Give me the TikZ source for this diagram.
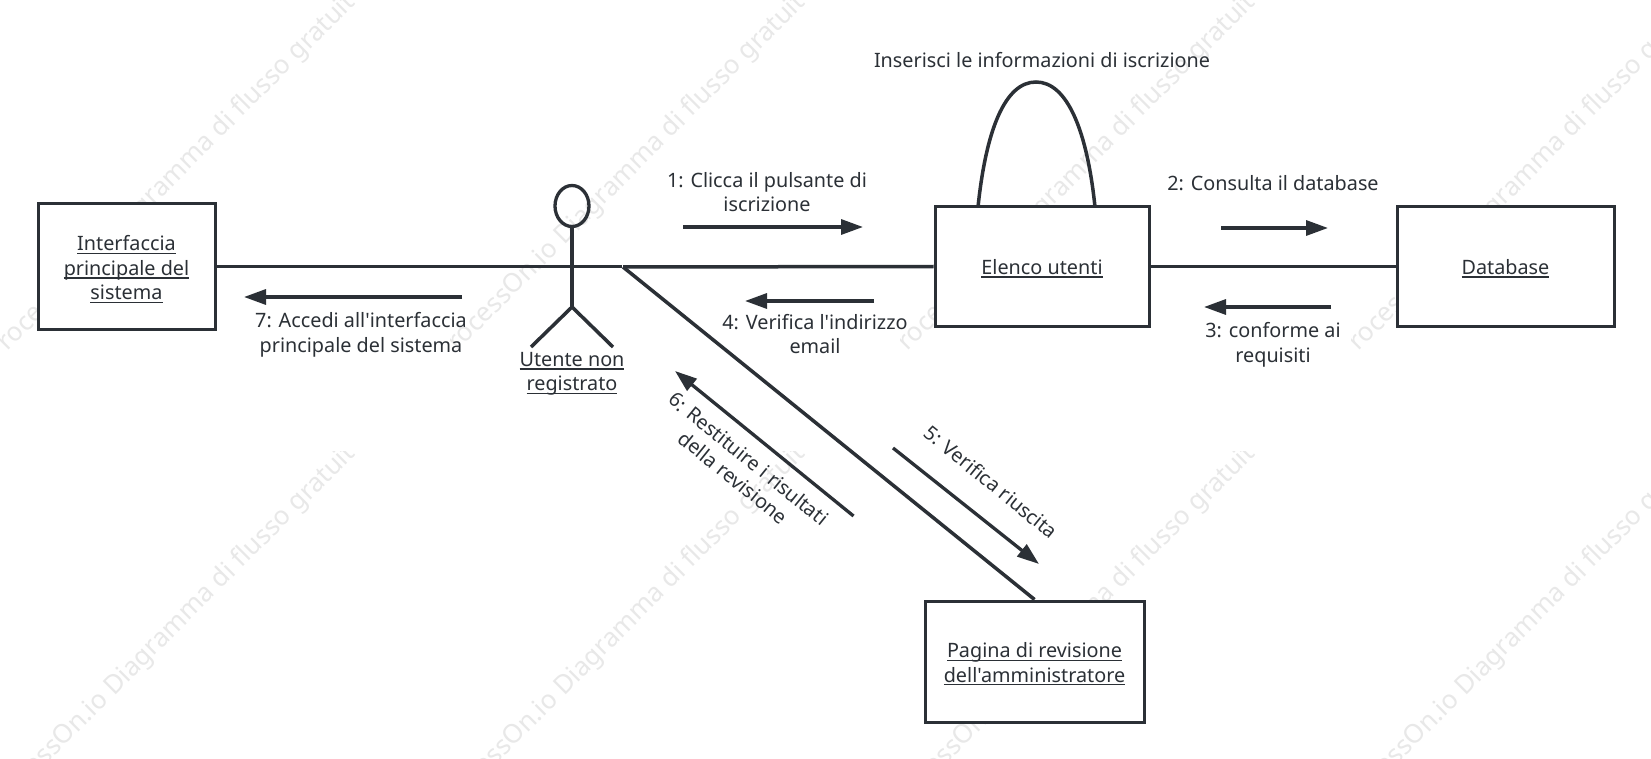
\documentclass[tikz,border=0pt]{standalone}
\usepackage{fontspec}
\setmainfont{Noto Sans}[Ligatures=TeXOff]
\usetikzlibrary{arrows.meta,shapes.geometric}
\definecolor{ink}{HTML}{2B3036}
\definecolor{wm}{HTML}{E8E8E8}
\tikzset{
  x=1pt,y=-1pt,
  objbox/.style={draw=ink,line width=3pt,fill=white,inner sep=0pt},
  lbl/.style={align=center,inner sep=0pt,font=\fontsize{19.8}{24.5}\selectfont,text=ink},
  link/.style={draw=ink,line width=3.5pt},
  msg/.style={draw=ink,line width=3.3pt,-{Triangle[length=22pt,width=15pt]}},
  wmark/.style={text=wm,font=\fontsize{26}{26}\selectfont,rotate=45,inner sep=0pt},
}
\newcommand{\ul}[1]{\setbox0\hbox{#1}\leavevmode\rlap{\raisebox{-3.2pt}{\rule{\wd0}{1.3pt}}}\box0 }
\begin{document}
\begin{tikzpicture}
\useasboundingbox (0,0) rectangle (1651,759);
\fill[white] (0,0) rectangle (1651,759);
% watermark tiles
\foreach \cx in {0,450,900,1351}{
  \foreach \cy in {0,451}{
    \begin{scope}
      \clip (\cx,\cy) rectangle ++(355,350);
      \node[wmark] at ({\cx+177},{\cy+173}) {ProcessOn.io Diagramma di flusso gratuito};
    \end{scope}
  }
}
% anchors
\coordinate (junction) at (623,267);
% boxes
\node[objbox,minimum width=177pt,minimum height=126pt] (iface) at (126.5,266.5) {};
\node[lbl] (ifaceT) at ([yshift=-3pt]iface.center) {\ul{Interfaccia}\\\ul{principale del}\\\ul{sistema}};
\node[objbox,minimum width=214pt,minimum height=119pt] (users) at (1042,266.5) {};
\node[lbl] (usersT) at ([yshift=-2pt]users.center) {\ul{Elenco utenti}};
\node[objbox,minimum width=217pt,minimum height=119pt] (db) at (1505.5,266.5) {};
\node[lbl] (dbT) at ([yshift=-2pt]db.center) {\ul{Database}};
\node[objbox,minimum width=219pt,minimum height=121pt] (admin) at (1034.5,661.5) {};
\node[lbl] (adminT) at ([yshift=-2.5pt]admin.center) {\ul{Pagina di revisione}\\\ul{dell'amministratore}};
% links
\draw[link] (iface.east) -- ([xshift=-1pt]iface.east -| junction);
\draw[link] (junction) -- (users.west);
\draw[link] (users.east) -- (db.west);
\draw[link] (junction) -- (admin.north);
% self loop
\coordinate (loopA) at (978,207);
\coordinate (loopB) at (1095,207);
\draw[link] (loopA) .. controls (986,130) and (1005,82) .. (1036,82) .. controls (1067,82) and (1087,130) .. (loopB);
% actor
\node[draw=ink,line width=3.3pt,ellipse,minimum width=34pt,minimum height=41pt,inner sep=0pt] (head) at (572,206) {};
\coordinate (hip) at (572,307);
\coordinate (footL) at (531,347);
\coordinate (footR) at (613,347);
\draw[link] (head.south) -- (hip);
\draw[link,line join=miter] (footL) -- (hip) -- (footR);
\node[lbl] (actor) at (572,374) {\ul{Utente non}\\\ul{registrato}};
% messages
\coordinate (m1a) at (683,227); \coordinate (m1b) at (863,227);
\draw[msg] (m1a) -- (m1b);
\coordinate (m2a) at (1221,228); \coordinate (m2b) at (1328,228);
\draw[msg] (m2a) -- (m2b);
\coordinate (m3a) at (1331,307); \coordinate (m3b) at (1204,307);
\draw[msg] (m3a) -- (m3b);
\coordinate (m4a) at (874,301); \coordinate (m4b) at (745,301);
\draw[msg] (m4a) -- (m4b);
\coordinate (m5a) at (893,448); \coordinate (m5b) at (1039,564);
\draw[msg] (m5a) -- (m5b);
\coordinate (m6a) at (853.5,516); \coordinate (m6b) at (675,371);
\draw[msg] (m6a) -- (m6b);
\coordinate (m7a) at (462,297); \coordinate (m7b) at (244,297);
\draw[msg] (m7a) -- (m7b);
% labels
\node[lbl] (t0) at (1042,60) {Inserisci le informazioni di iscrizione};
\node[lbl] (t1) at (767,192) {1: Clicca il pulsante di\\iscrizione};
\node[lbl] (t2) at (1273,183.5) {2: Consulta il database};
\node[lbl] (t3) at (1273,345) {3: conforme ai\\requisiti};
\node[lbl] (t4) at (815,334) {4: Verifica l'indirizzo\\email};
\node[lbl,rotate=-39] (t5) at (991,482) {5: Verifica riuscita};
\node[lbl,rotate=-39] (t6) at (741,468) {6: Restituire i risultati\\della revisione};
\node[lbl] (t7) at (361,335) {7: Accedi all'interfaccia\\principale del sistema};
\end{tikzpicture}
\end{document}
